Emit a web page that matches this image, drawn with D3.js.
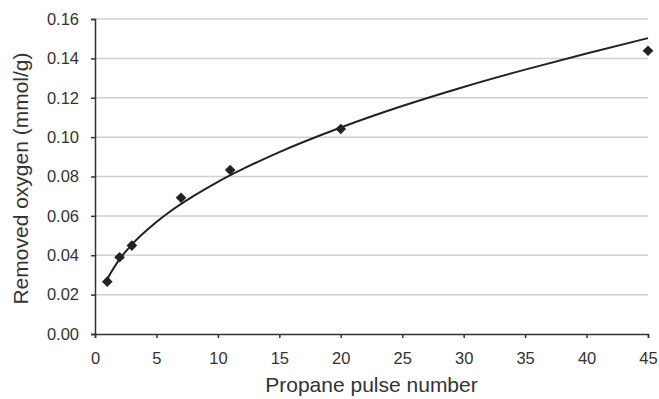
<!DOCTYPE html>
<html>
<head>
<meta charset="utf-8">
<script src="https://cdn.jsdelivr.net/npm/d3@7/dist/d3.min.js"></script>
<style>
  html, body { margin: 0; padding: 0; background: #fff; }
  svg { display: block; font-family: "Liberation Sans", Arial, sans-serif; }
</style>
</head>
<body>
<svg id="chart" width="659" height="399"></svg>
<script>
// Measured points: propane pulse number vs removed oxygen (mmol/g)
const pulseNumbers = [1, 2, 3, 7, 11, 20, 45];
const removedOxygen = [0.0266, 0.0390, 0.0449, 0.0692, 0.0833, 0.1041, 0.1439];

// Power-law trend line, sampled along the pulse axis
const trendX = [1, 2, 3, 4, 5, 6, 8, 10, 12, 15, 20, 25, 30, 35, 40, 45];
const trendY = [0.0280, 0.0380, 0.0454, 0.0515, 0.0569, 0.0617, 0.0700, 0.0773,
                0.0837, 0.0924, 0.1049, 0.1158, 0.1255, 0.1343, 0.1425, 0.1503];

// Axis ticks
const xTicks = [0, 5, 10, 15, 20, 25, 30, 35, 40, 45];
const yTicks = [0, 0.02, 0.04, 0.06, 0.08, 0.10, 0.12, 0.14, 0.16];

const xTitle = "Propane pulse number";
const yTitle = "Removed oxygen (mmol/g)";

const svg = d3.select("#chart");
const plot = { left: 95, right: 648, top: 19, bottom: 334 };

const x = d3.scaleLinear().domain([0, 45]).range([plot.left, plot.right]);
const y = d3.scaleLinear().domain([0, 0.16]).range([plot.bottom, plot.top]);

// Horizontal gridlines
svg.append("g")
  .selectAll("line")
  .data(yTicks.filter(d => d > 0))
  .join("line")
  .attr("x1", plot.left)
  .attr("x2", plot.right)
  .attr("y1", d => y(d))
  .attr("y2", d => y(d))
  .attr("stroke", "#cfcfcf")
  .attr("stroke-width", 1.5);

// Y axis
const yAxis = svg.append("g")
  .attr("transform", `translate(${plot.left},0)`)
  .call(d3.axisLeft(y).tickValues(yTicks).tickFormat(d3.format(".2f")).tickSize(4).tickPadding(12));

// X axis
const xAxis = svg.append("g")
  .attr("transform", `translate(0,${plot.bottom})`)
  .call(d3.axisBottom(x).tickValues(xTicks).tickFormat(d3.format("d")).tickSize(4).tickPadding(14));

[yAxis, xAxis].forEach(g => {
  g.select(".domain").attr("stroke", "#333").attr("stroke-width", 1.5);
  g.selectAll(".tick line").attr("stroke", "#333").attr("stroke-width", 1.5);
  g.selectAll(".tick text")
    .attr("fill", "#333")
    .style("font-size", "16.5px")
    .style("font-family", "'Liberation Sans', Arial, sans-serif");
});

// Trend line
const line = d3.line()
  .x((d, i) => x(trendX[i]))
  .y(d => y(d))
  .curve(d3.curveMonotoneX);

svg.append("path")
  .datum(trendY)
  .attr("d", line)
  .attr("fill", "none")
  .attr("stroke", "#222")
  .attr("stroke-width", 2);

// Diamond markers
const diamond = d3.symbol().type(d3.symbolDiamond2).size(72);
svg.append("g")
  .selectAll("path")
  .data(pulseNumbers)
  .join("path")
  .attr("d", diamond)
  .attr("transform", (d, i) => `translate(${x(d)},${y(removedOxygen[i])})`)
  .attr("fill", "#222");

// Axis titles
svg.append("text")
  .attr("x", (plot.left + plot.right) / 2)
  .attr("y", 392)
  .attr("text-anchor", "middle")
  .attr("fill", "#333")
  .style("font-size", "21px")
  .text(xTitle);

svg.append("text")
  .attr("transform", `translate(28,${(52 + 305) / 2}) rotate(-90)`)
  .attr("text-anchor", "middle")
  .attr("fill", "#333")
  .style("font-size", "21px")
  .text(yTitle);
</script>
</body>
</html>
